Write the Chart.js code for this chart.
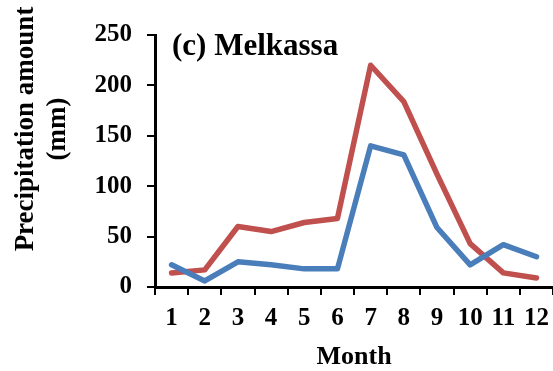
<!DOCTYPE html>
<html>
<head>
<meta charset="utf-8">
<script src="https://cdn.jsdelivr.net/npm/chart.js@4/dist/chart.umd.min.js"></script>
<style>
  html, body { margin: 0; padding: 0; background: #fff; overflow: hidden; }
  #wrap { width: 558px; height: 371px; }
</style>
</head>
<body>
<div id="wrap"><canvas id="chart" width="558" height="371"></canvas></div>
<script>
let months = ['1','2','3','4','5','6','7','8','9','10','11','12'];
let blueVals = [22, 6, 25, 22, 18, 18, 140, 131, 59, 22, 42, 30];
let redVals = [14, 17, 60, 55, 64, 68, 220, 184, 112, 43, 14, 9];
let yTicks = [0, 50, 100, 150, 200, 250];

const serif = 'Liberation Serif, Times New Roman, serif';

// axis titles and panel label drawn on the canvas
const textPlugin = {
  id: 'texts',
  afterDraw(chart) {
    let ctx = chart.ctx;
    let area = chart.chartArea;
    ctx.save();
    ctx.fillStyle = '#000';
    ctx.font = 'bold 31px ' + serif;
    ctx.textBaseline = 'middle';
    ctx.textAlign = 'left';
    ctx.fillText('(c) Melkassa', area.left + 17, 47);

    ctx.font = 'bold 27px ' + serif;
    ctx.textAlign = 'center';
    ctx.translate(26, 129);
    ctx.rotate(-Math.PI / 2);
    ctx.fillText('Precipitation amount', 0, 0);
    ctx.fillText('(mm)', 0, 32);
    ctx.restore();
  }
};

let ctx = document.getElementById('chart').getContext('2d');
var myChart = new Chart(ctx, {
  type: 'line',
  data: {
    labels: months,
    datasets: [{
      label: 'blue',
      data: blueVals,
      borderColor: '#4a7ebb',
      borderWidth: 5.5,
      pointRadius: 0,
      fill: false,
      tension: 0,
      borderCapStyle: 'round',
      borderJoinStyle: 'round'
    }, {
      label: 'red',
      data: redVals,
      borderColor: '#c0504d',
      borderWidth: 5.5,
      pointRadius: 0,
      fill: false,
      tension: 0,
      borderCapStyle: 'round',
      borderJoinStyle: 'round'
    }]
  },
  options: {
    responsive: false,
    animation: false,
    layout: { padding: { top: 35, left: 0, right: 0, bottom: 0 } },
    plugins: { legend: { display: false }, tooltip: { enabled: false } },
    scales: {
      x: {
        offset: true,
        grid: { display: true, drawOnChartArea: false, color: '#000', lineWidth: 2, tickLength: 8, offset: true },
        border: { display: true, color: '#000', width: 3 },
        ticks: { color: '#000', font: { family: serif, size: 25, weight: 'bold' }, padding: 9, maxRotation: 0, autoSkip: false },
        title: { display: true, text: 'Month', color: '#000', font: { family: serif, size: 26, weight: 'bold', lineHeight: 1.05 }, padding: { top: 0, bottom: 0 } },
        afterFit(scale) { scale.height = 84; }
      },
      y: {
        min: 0,
        max: 250,
        afterBuildTicks(scale) { scale.ticks = yTicks.map(v => ({ value: v })); },
        grid: { display: true, drawOnChartArea: false, color: '#000', lineWidth: 2, tickLength: 8 },
        border: { display: true, color: '#000', width: 3 },
        ticks: { color: '#000', font: { family: serif, size: 25, weight: 'bold' }, padding: 15 },
        afterFit(scale) { scale.width = 155; }
      }
    }
  },
  plugins: [textPlugin]
});
</script>
</body>
</html>
